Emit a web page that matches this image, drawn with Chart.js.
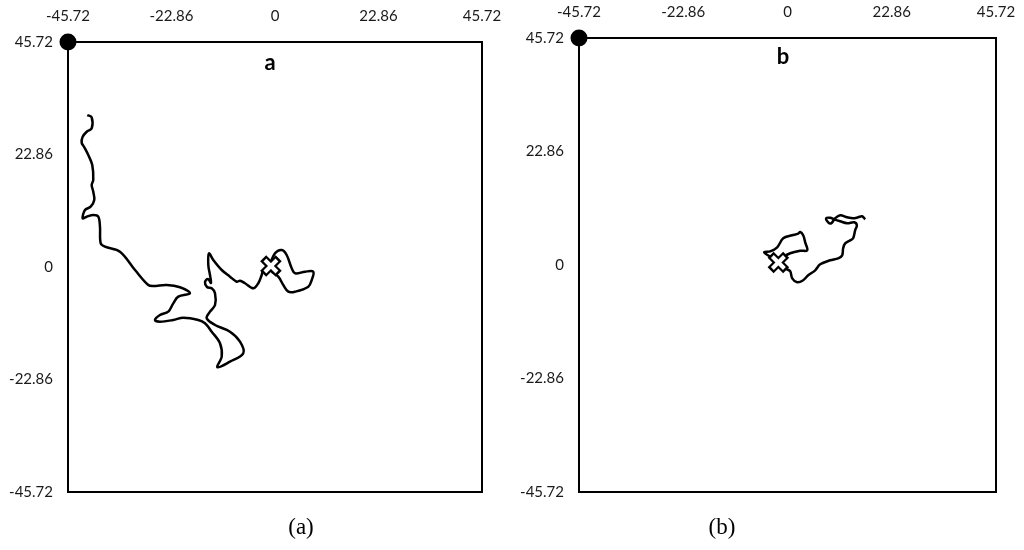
<!DOCTYPE html>
<html>
<head>
<meta charset="utf-8">
<script src="https://cdn.jsdelivr.net/npm/chart.js@4.4.1/dist/chart.umd.min.js"></script>
<style>
  body { margin: 0; background: #fff; width: 1024px; height: 550px; position: relative; overflow: hidden; }
  canvas { position: absolute; top: 0; }
  #chart-a { left: 0; }
  #chart-b { left: 512px; }
  .panel-tag { position: absolute; font: bold 22px Lato, "DejaVu Sans", sans-serif; color: #000; transform: translate(-50%, -50%); }
  .caption { position: absolute; font: 23px "Liberation Serif", "DejaVu Serif", serif; color: #000; transform: translate(-50%, -50%); }
</style>
</head>
<body>
<canvas id="chart-a" width="512" height="550"></canvas>
<canvas id="chart-b" width="512" height="550"></canvas>
<div class="panel-tag" style="left:270px;top:61px">a</div>
<div class="panel-tag" style="left:783px;top:55px">b</div>
<div class="caption" style="left:301px;top:527px">(a)</div>
<div class="caption" style="left:722px;top:527px">(b)</div>
<script>
const AXIS_MIN = -45.72
const AXIS_MAX = 45.72
const tickValues = [-45.72, -22.86, 0, 22.86, 45.72]
const tickLabels = ['-45.72', '-22.86', '0', '22.86', '45.72']

// corner marker (top-left of the arena)
const cornerX = [-45.72]
const cornerY = [45.72]

// panel a: path and start cross
const pathAX = [-41.46, -40.49, -40.49, -41.59, -42.48, -42.70, -42.19, -41.24, -40.36, -40.14, -40.49, -40.14, -39.92, -40.71, -41.97, -42.48, -41.59, -40.14, -39.03, -38.66, -38.50, -37.56, -34.24, -30.92, -27.99, -26.88, -23.92, -20.99, -18.78, -21.36, -22.47, -23.57, -25.40, -26.51, -25.40, -22.47, -20.26, -16.94, -15.46, -13.98, -12.15, -11.77, -12.75, -9.94, -7.00, -7.73, -9.94, -13.25, -15.09, -14.36, -13.25, -13.25, -13.98, -15.02, -15.46, -14.80, -14.14, -14.36, -14.73, -14.58, -13.63, -11.77, -9.94, -8.46, -7.73, -6.63, -4.79, -3.69, -2.94, -2.58, -1.48, 0.00, 1.48, 2.58, 3.69, 4.42, 6.63, 8.46, 8.11, 7.36, 4.42, 2.94, 1.83, 0.73, -0.73]
const pathAY = [30.88, 30.41, 28.18, 27.49, 26.47, 25.25, 24.44, 22.75, 20.72, 17.68, 16.66, 15.30, 13.61, 12.25, 11.58, 9.89, 10.22, 10.56, 10.22, 8.19, 4.82, 4.13, 3.11, -0.61, -3.66, -3.86, -3.66, -4.12, -5.34, -6.03, -7.38, -9.08, -9.75, -10.77, -11.11, -10.77, -10.30, -10.77, -11.44, -13.15, -15.50, -18.22, -20.38, -19.24, -17.53, -15.18, -13.15, -11.78, -10.42, -9.08, -7.72, -5.34, -4.33, -4.06, -3.05, -2.44, -3.25, -1.63, 0.41, 2.78, 1.42, -0.61, -1.97, -2.99, -2.78, -3.31, -4.33, -3.31, -1.63, -0.61, 0.06, 2.78, 3.45, 2.44, -0.26, -1.28, -0.95, -0.95, -2.64, -4.00, -5.02, -5.02, -3.66, -1.97, -0.95]
const startAX = [-0.9]
const startAY = [0.2]

// panel b: path and start cross
const pathBX = [-2.04, -3.57, -5.11, -3.79, -2.26, -0.94, 1.03, 2.34, 2.78, 3.44, 3.88, 4.32, 2.78, 0.59, -0.94, -1.82, -0.50, 0.59, 1.03, 2.13, 3.44, 4.54, 6.07, 7.17, 9.36, 11.11, 11.99, 12.20, 12.64, 13.74, 14.39, 14.83, 15.21, 14.62, 13.08, 11.55, 10.23, 9.36, 8.48, 8.92, 9.57, 10.45, 11.55, 13.08, 14.39, 15.49, 16.37, 17.02]
const pathBY = [0.54, 1.55, 2.56, 2.76, 3.57, 5.38, 5.98, 6.32, 6.65, 5.98, 4.57, 2.96, 2.86, 2.36, 1.55, 0.54, -0.66, -1.27, -2.68, -3.48, -3.08, -2.07, -1.07, 0.14, 0.95, 1.35, 1.95, 3.36, 4.37, 4.97, 5.38, 6.99, 8.00, 8.60, 8.40, 8.80, 9.20, 9.51, 9.41, 8.60, 8.40, 9.41, 10.01, 9.61, 9.41, 9.61, 9.81, 9.21]
const startBX = [-2.0]
const startBY = [0.5]

const toPoints = (xs, ys) => xs.map((x, i) => ({ x, y: ys[i] }))

const labelFont = { family: 'Lato, "DejaVu Sans", sans-serif', size: 15 }

// drop the label overhang padding so the box edges sit where we put them
function noOverhang(s) {
  s.paddingLeft = 0; s.paddingRight = 0
  s.paddingTop = 0; s.paddingBottom = 0
}

// right/bottom edges of the box, no labels; their size sets the margin
function plainAxis(position, size) {
  const isX = position === 'top' || position === 'bottom'
  return {
    type: 'linear',
    position,
    min: AXIS_MIN, max: AXIS_MAX,
    grid: { display: false, drawTicks: false },
    border: { display: true, color: '#000', width: 2 },
    ticks: { display: false },
    afterFit: s => { if (isX) s.height = size; else s.width = size; noOverhang(s) }
  }
}

function makeChart(id, pathXs, pathYs, startXs, startYs, box) {
  return new Chart(document.getElementById(id), {
    type: 'scatter',
    data: {
      datasets: [
        {
          data: toPoints(startXs, startYs), order: 1,
          pointStyle: 'crossRot', pointRadius: 8.5, pointBorderWidth: 4,
          pointBorderColor: '#fff', pointBackgroundColor: '#fff'
        },
        {
          data: toPoints(startXs, startYs), order: 2,
          pointStyle: 'crossRot', pointRadius: 11, pointBorderWidth: 8.5,
          pointBorderColor: '#000', pointBackgroundColor: '#000'
        },
        {
          data: toPoints(cornerX, cornerY), order: 1, clip: false,
          pointStyle: 'circle', pointRadius: 8.5, pointBorderWidth: 0,
          pointBackgroundColor: '#000'
        },
        {
          data: toPoints(pathXs, pathYs), order: 3,
          showLine: true, borderColor: '#000', borderWidth: 2.5,
          pointRadius: 0, tension: 0.35, fill: false
        }
      ]
    },
    options: {
      responsive: false,
      animation: false,
      layout: { padding: 0 },
      plugins: { legend: { display: false }, tooltip: { enabled: false } },
      scales: {
        x: {
          type: 'linear', position: 'top',
          min: AXIS_MIN, max: AXIS_MAX,
          grid: { display: false, drawTicks: false },
          border: { display: true, color: '#000', width: 2 },
          afterBuildTicks: s => { s.ticks = tickValues.map(v => ({ value: v })) },
          afterFit: s => { s.height = box.top; noOverhang(s) },
          ticks: {
            autoSkip: false, maxRotation: 0, padding: 17,
            color: '#1a1a1a', font: labelFont,
            callback: (v, i) => tickLabels[i]
          }
        },
        y: {
          type: 'linear', position: 'left',
          min: AXIS_MIN, max: AXIS_MAX,
          grid: { display: false, drawTicks: false },
          border: { display: true, color: '#000', width: 2 },
          afterBuildTicks: s => { s.ticks = tickValues.map(v => ({ value: v })) },
          afterFit: s => { s.width = box.left; noOverhang(s) },
          ticks: {
            autoSkip: false, padding: 15,
            color: '#1a1a1a', font: labelFont,
            callback: (v, i) => tickLabels[i]
          }
        },
        x2: plainAxis('bottom', box.bottom),
        y2: plainAxis('right', box.right)
      }
    }
  })
}

makeChart('chart-a', pathAX, pathAY, startAX, startAY, { left: 68, top: 42, right: 30, bottom: 58 })
makeChart('chart-b', pathBX, pathBY, startBX, startBY, { left: 67, top: 38, right: 28, bottom: 58 })
</script>
</body>
</html>
